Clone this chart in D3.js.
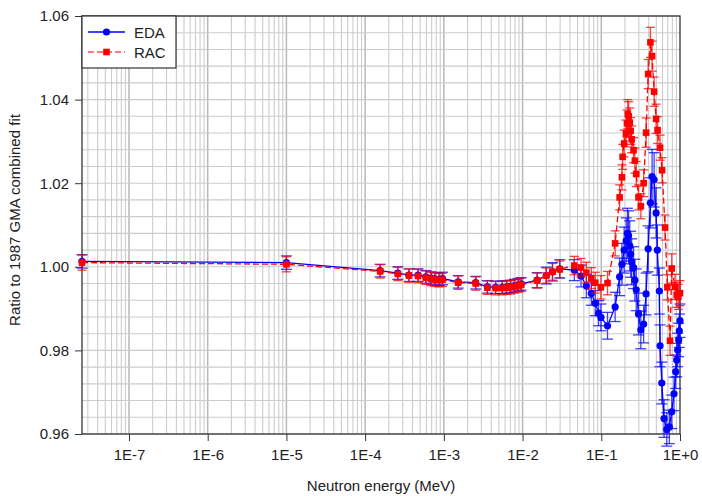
<!DOCTYPE html>
<html>
<head>
<meta charset="utf-8">
<script src="https://cdn.jsdelivr.net/npm/d3@7"></script>
<style>
  body { margin: 0; background: #fff; }
  text { font-family: "Liberation Sans", Arial, sans-serif; fill: #222; }
</style>
</head>
<body>
<div id="chart"></div>
<script>
// EDA series: energy (MeV), ratio, uncertainty
var edaE = [2.53e-8, 1e-5, 1.55e-4, 2.6e-4, 3.6e-4, 4.7e-4, 5.9e-4, 6.9e-4, 7.7e-4, 8.7e-4, 9.6e-4,
  1.52e-3, 2.54e-3, 3.57e-3, 4.55e-3, 5.53e-3, 6.27e-3, 7.05e-3, 7.9e-3, 8.8e-3, 9.6e-3,
  0.0153, 0.020, 0.024, 0.0297, 0.0455, 0.0553, 0.0646, 0.0747, 0.0839, 0.0924, 0.099, 0.120,
  0.150, 0.171, 0.183, 0.195, 0.207, 0.215, 0.222, 0.230, 0.236, 0.243, 0.257, 0.267, 0.278,
  0.297, 0.318, 0.345, 0.371, 0.394, 0.421, 0.442, 0.469, 0.497, 0.515, 0.547, 0.558, 0.587,
  0.627, 0.679, 0.732, 0.785, 0.839, 0.882, 0.908, 0.935, 0.963, 0.980, 1.0];
var edaY = [1.0013, 1.0010, 0.9991, 0.9985, 0.9980, 0.9980, 0.9976, 0.9973, 0.9971, 0.9970, 0.9972,
  0.9964, 0.9962, 0.9952, 0.9951, 0.9951, 0.9952, 0.9953, 0.9955, 0.9957, 0.9959,
  0.9968, 0.9979, 0.9988, 0.9995, 0.9992, 0.9978, 0.9954, 0.9936, 0.9913, 0.9889, 0.9879, 0.9859,
  0.9904, 0.9976, 1.0006, 1.0040, 1.0062, 1.0080, 1.0074, 1.0050, 1.0030, 1.0012, 0.9998, 0.9968, 0.9945,
  0.9887, 0.9849, 0.9863, 0.9935, 1.0043, 1.0153, 1.0216, 1.0208, 1.0129, 1.0040, 0.9942, 0.9811, 0.9722,
  0.9637, 0.9611, 0.9617, 0.9653, 0.9696, 0.9749, 0.9777, 0.9801, 0.9825, 0.9847, 0.9871];
var edaErr = [0.0016, 0.0016, 0.0015, 0.0015, 0.0015, 0.0015, 0.0015, 0.0015, 0.0015, 0.0015, 0.0015,
  0.0015, 0.0015, 0.0015, 0.0015, 0.0015, 0.0015, 0.0015, 0.0015, 0.0015, 0.0015,
  0.0018, 0.0020, 0.0022, 0.0022, 0.0025, 0.0026, 0.0028, 0.0028, 0.0030, 0.0030, 0.0032, 0.0032,
  0.0035, 0.0045, 0.0050, 0.0055, 0.0055, 0.0060, 0.0060, 0.0060, 0.0055, 0.0055, 0.0050, 0.0050, 0.0050,
  0.0050, 0.0045, 0.0045, 0.0050, 0.0055, 0.0060, 0.0065, 0.0065, 0.0060, 0.0060, 0.0055, 0.0050, 0.0050,
  0.0045, 0.0040, 0.0040, 0.0040, 0.0040, 0.0040, 0.0040, 0.0040, 0.0040, 0.0040, 0.0040];

// RAC series
var racE = [2.53e-8, 1e-5, 1.55e-4, 2.6e-4, 3.6e-4, 4.7e-4, 5.9e-4, 6.9e-4, 7.7e-4, 8.7e-4, 9.6e-4,
  1.52e-3, 2.54e-3, 3.57e-3, 4.55e-3, 5.53e-3, 6.27e-3, 7.05e-3, 7.9e-3, 8.8e-3, 9.6e-3,
  0.0153, 0.020, 0.024, 0.0297, 0.0455, 0.0553, 0.0646, 0.0747, 0.0839, 0.099, 0.120,
  0.150, 0.171, 0.183, 0.187, 0.195, 0.206, 0.212, 0.217, 0.223, 0.230, 0.236, 0.243, 0.257, 0.267,
  0.278, 0.297, 0.318, 0.345, 0.371, 0.394, 0.421, 0.442, 0.469, 0.497, 0.519, 0.558, 0.592,
  0.646, 0.691, 0.747, 0.785, 0.865, 0.908, 0.952, 1.0];
var racY = [1.0010, 1.0006, 0.9989, 0.9983, 0.9979, 0.9978, 0.9974, 0.9971, 0.9969, 0.9968, 0.9969,
  0.9962, 0.9960, 0.9950, 0.9949, 0.9949, 0.9950, 0.9951, 0.9953, 0.9955, 0.9957,
  0.9967, 0.9979, 0.9988, 0.9994, 1.0003, 0.9998, 0.9986, 0.9973, 0.9962, 0.9951, 0.9961,
  1.0056, 1.0166, 1.0214, 1.0263, 1.0295, 1.0319, 1.0343, 1.0365, 1.0360, 1.0345, 1.0325, 1.0305, 1.0279, 1.0254,
  1.0222, 1.0166, 1.0145, 1.0200, 1.0321, 1.0461, 1.0537, 1.0504, 1.0419, 1.0354, 1.0327, 1.0285, 1.0231,
  1.0094, 0.9951, 0.9823, 0.9996, 0.9952, 0.9933, 0.9928, 0.9937];
var racErr = [0.0018, 0.0018, 0.0016, 0.0016, 0.0016, 0.0016, 0.0016, 0.0016, 0.0016, 0.0016, 0.0016,
  0.0016, 0.0016, 0.0016, 0.0016, 0.0016, 0.0016, 0.0016, 0.0016, 0.0016, 0.0016,
  0.0018, 0.0018, 0.0020, 0.0020, 0.0022, 0.0022, 0.0025, 0.0025, 0.0025, 0.0028, 0.0028,
  0.0030, 0.0030, 0.0030, 0.0030, 0.0032, 0.0032, 0.0032, 0.0035, 0.0035, 0.0035, 0.0032, 0.0032, 0.0030, 0.0030,
  0.0030, 0.0030, 0.0030, 0.0032, 0.0035, 0.0035, 0.0036, 0.0036, 0.0035, 0.0035, 0.0032, 0.0030, 0.0030,
  0.0030, 0.0030, 0.0035, 0.0035, 0.0030, 0.0030, 0.0030, 0.0030];

var xTicks = [1e-7, 1e-6, 1e-5, 1e-4, 1e-3, 1e-2, 1e-1, 1];
var xTickLabels = ["1E-7", "1E-6", "1E-5", "1E-4", "1E-3", "1E-2", "1E-1", "1E+0"];
var yTicks = [0.96, 0.98, 1.00, 1.02, 1.04, 1.06];

var width = 702, height = 496;
var plotL = 82, plotR = 680, plotT = 16, plotB = 434;

var svg = d3.select("#chart").append("svg")
  .attr("width", width)
  .attr("height", height);

var xScale = d3.scaleLog().domain([2.53e-8, 1]).range([plotL, plotR]);
var yScale = d3.scaleLinear().domain([0.96, 1.06]).range([plotB, plotT]);

// grid
var grid = svg.append("g");
var minorX = [];
for (var p = -8; p < 0; p++) {
  for (var m = 1; m < 10; m++) {
    var v = m * Math.pow(10, p);
    if (v >= 2.53e-8 && v <= 1) minorX.push({ v: v, major: m === 1 });
  }
}
grid.selectAll("line.vx").data(minorX).enter().append("line")
  .attr("x1", function(d) { return xScale(d.v); })
  .attr("x2", function(d) { return xScale(d.v); })
  .attr("y1", plotT).attr("y2", plotB)
  .attr("stroke", function(d) { return d.major ? "#b8b8b8" : "#cccccc"; })
  .attr("stroke-width", function(d) { return d.major ? 1.5 : 1.1; });

var hGrid = d3.range(0, 26).map(function(i) { return 0.96 + i * 0.004; });
grid.selectAll("line.hy").data(hGrid).enter().append("line")
  .attr("x1", plotL).attr("x2", plotR)
  .attr("y1", function(d) { return yScale(d); })
  .attr("y2", function(d) { return yScale(d); })
  .attr("stroke", "#cccccc")
  .attr("stroke-width", 1.1);

// axes
var xAxis = d3.axisBottom(xScale).tickValues(xTicks)
  .tickFormat(function(d, i) { return xTickLabels[i]; })
  .tickSize(7).tickPadding(8);
var yAxis = d3.axisLeft(yScale).tickValues(yTicks)
  .tickFormat(d3.format(".2f"))
  .tickSize(7).tickPadding(6);

var gx = svg.append("g").attr("transform", "translate(0," + plotB + ")").call(xAxis);
var gy = svg.append("g").attr("transform", "translate(" + plotL + ",0)").call(yAxis);
[gx, gy].forEach(function(g) {
  g.select(".domain").remove();
  g.selectAll("line").attr("stroke", "#333");
  g.selectAll("text").attr("font-size", 15).attr("fill", "#222")
    .style("font-family", "'Liberation Sans', Arial, sans-serif");
});

svg.append("rect")
  .attr("x", plotL).attr("y", plotT)
  .attr("width", plotR - plotL).attr("height", plotB - plotT)
  .attr("fill", "none").attr("stroke", "#333").attr("stroke-width", 1.3);

svg.append("text")
  .attr("x", (plotL + plotR) / 2).attr("y", 491)
  .attr("text-anchor", "middle").attr("font-size", 15)
  .text("Neutron energy (MeV)");

svg.append("text")
  .attr("transform", "translate(20,220)rotate(-90)")
  .attr("text-anchor", "middle").attr("font-size", 15)
  .text("Ratio to 1987 GMA combined fit");

function build(E, Y, Err) {
  return E.map(function(e, i) { return { e: e, y: Y[i], err: Err[i] }; });
}
var eda = build(edaE, edaY, edaErr);
var rac = build(racE, racY, racErr);

var plot = svg.append("g");

function drawSeries(data, color, dash, capW, marker) {
  var g = plot.append("g");
  var eb = g.selectAll("g.eb").data(data).enter().append("g")
    .attr("stroke", color).attr("stroke-opacity", 0.75).attr("stroke-width", 1.3);
  eb.append("line")
    .attr("x1", function(d) { return xScale(d.e); })
    .attr("x2", function(d) { return xScale(d.e); })
    .attr("y1", function(d) { return yScale(d.y - d.err); })
    .attr("y2", function(d) { return yScale(d.y + d.err); });
  [1, -1].forEach(function(s) {
    eb.append("line")
      .attr("x1", function(d) { return xScale(d.e) - capW / 2; })
      .attr("x2", function(d) { return xScale(d.e) + capW / 2; })
      .attr("y1", function(d) { return yScale(d.y + s * d.err); })
      .attr("y2", function(d) { return yScale(d.y + s * d.err); });
  });

  var line = d3.line()
    .x(function(d) { return xScale(d.e); })
    .y(function(d) { return yScale(d.y); });
  g.append("path").datum(data)
    .attr("d", line)
    .attr("fill", "none")
    .attr("stroke", color)
    .attr("stroke-width", 1.3)
    .attr("stroke-dasharray", dash);

  if (marker === "circle") {
    g.selectAll("circle").data(data).enter().append("circle")
      .attr("cx", function(d) { return xScale(d.e); })
      .attr("cy", function(d) { return yScale(d.y); })
      .attr("r", 3.6)
      .attr("fill", color);
  } else {
    g.selectAll("rect").data(data).enter().append("rect")
      .attr("x", function(d) { return xScale(d.e) - 3.3; })
      .attr("y", function(d) { return yScale(d.y) - 3.3; })
      .attr("width", 6.6).attr("height", 6.6)
      .attr("fill", color);
  }
}

drawSeries(eda, "#0000ff", null, 11, "circle");
drawSeries(rac, "#ff0000", "6,3", 9, "square");

// legend
var legend = svg.append("g");
legend.append("rect")
  .attr("x", 82).attr("y", 16).attr("width", 94).attr("height", 52)
  .attr("fill", "#fff").attr("stroke", "#333").attr("stroke-width", 1.2);
legend.append("line").attr("x1", 88).attr("x2", 125).attr("y1", 32).attr("y2", 32)
  .attr("stroke", "#0000ff").attr("stroke-width", 1.3);
legend.append("circle").attr("cx", 106.5).attr("cy", 32).attr("r", 3.6).attr("fill", "#0000ff");
legend.append("text").attr("x", 134).attr("y", 37.5).attr("font-size", 15).text("EDA");
legend.append("line").attr("x1", 88).attr("x2", 125).attr("y1", 52).attr("y2", 52)
  .attr("stroke", "#ff0000").attr("stroke-width", 1.3).attr("stroke-dasharray", "6,3")
  .attr("stroke-opacity", 0.7);
legend.append("rect").attr("x", 103.2).attr("y", 48.7).attr("width", 6.6).attr("height", 6.6).attr("fill", "#ff0000");
legend.append("text").attr("x", 134).attr("y", 57.5).attr("font-size", 15).text("RAC");
</script>
</body>
</html>
